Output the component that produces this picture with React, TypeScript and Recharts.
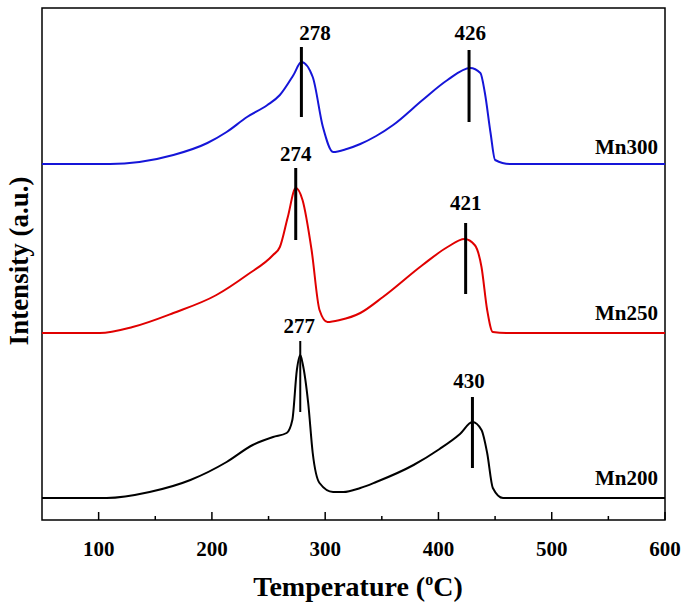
import {
  LineChart,
  Line,
  XAxis,
  YAxis,
  ReferenceArea,
  ReferenceLine,
  ReferenceDot,
} from 'recharts';

// temperature (°C) and intensity (a.u., stacked offsets)
const mn300T = [50, 110, 136, 166, 196, 213, 231, 249, 260, 272, 279, 289, 298, 307, 319, 331, 345, 360, 386, 408, 428, 437, 441, 446, 450, 463, 600];
const mn300I = [356, 356, 358, 365, 377, 388, 403, 415, 425, 445, 458, 443, 393, 368, 371, 376, 384, 395, 420, 440, 452, 447, 427, 387, 360, 356, 356];

const mn250T = [50, 101, 130, 166, 204, 231, 254, 260, 267, 274, 280, 288, 295, 302, 313, 331, 351, 386, 408, 423, 432, 438, 443, 448, 460, 600];
const mn250I = [187, 187, 193, 207, 225, 245, 265, 273, 303, 332, 320, 270, 210, 198, 200, 207, 223, 255, 273, 281, 275, 253, 210, 188, 187, 187];

const mn200T = [50, 107, 145, 181, 213, 236, 254, 266, 271, 275, 278, 280, 285, 289, 295, 307, 316, 331, 345, 378, 401, 419, 430, 438, 443, 448, 457, 600];
const mn200I = [22, 22, 28, 40, 58, 75, 83, 87, 100, 150, 165, 157, 117, 67, 37, 28, 28, 32, 38, 55, 71, 86, 98, 90, 67, 32, 22, 22];

// peak markers: label text, bar position, bar ends, label position
const peakLabels = ['278', '426', '274', '421', '277', '430'];
const peakT = [279, 427, 274, 424, 278, 430];
const barTop = [473, 470, 352, 297, 179, 123];
const barBottom = [403, 398, 280, 226, 108, 52];
const barWidth = [3, 3, 3, 3, 2, 3];
const labelT = [291, 428, 274, 424, 277, 427];
const labelI = [487, 487, 366, 317, 194, 139];

const sampleNames = ['Mn300', 'Mn250', 'Mn200'];
const sampleColors = ['#1515d8', '#e00000', '#000000'];
const sampleBase = [373, 207, 42];

const xTicks = [100, 150, 200, 250, 300, 350, 400, 450, 500, 550, 600];

const toRows = (t: number[], v: number[]) => t.map((x, i) => ({ t: x, v: v[i] }));
const curves = [toRows(mn300T, mn300I), toRows(mn250T, mn250I), toRows(mn200T, mn200I)];

const FONT = '"Liberation Serif", "Times New Roman", serif';

const XTick = ({ x, y, payload }: any) => {
  const major = payload.value % 100 === 0;
  return (
    <g>
      <line x1={x} x2={x} y1={y} y2={y - (major ? 8 : 4)} stroke="#000" strokeWidth={1.5} />
      {major && (
        <text x={x} y={y + 36} textAnchor="middle" fontFamily={FONT} fontWeight="bold" fontSize={21} fill="#000">
          {payload.value}
        </text>
      )}
    </g>
  );
};

const XTitle = () => (
  <text x={358} y={596} textAnchor="middle" fontFamily={FONT} fontWeight="bold" fontSize={28} fill="#000">
    Temperature (<tspan fontSize={16} dy={-11}>o</tspan>
    <tspan dy={11}>C)</tspan>
  </text>
);

const YTitle = () => (
  <text
    x={28}
    y={261}
    transform="rotate(-90 28 261)"
    textAnchor="middle"
    fontFamily={FONT}
    fontWeight="bold"
    fontSize={27}
    fill="#000"
  >
    Intensity (a.u.)
  </text>
);

const textStyle = { fontFamily: FONT, fontWeight: 'bold', fontSize: 21, fill: '#000' };

export default function App() {
  return (
    <div style={{ position: 'absolute', left: 0, top: 0, background: '#fff' }}>
      <LineChart width={685} height={608} margin={{ top: 8, right: 20, bottom: 0, left: 0 }}>
        <XAxis
          dataKey="t"
          type="number"
          domain={[50, 600]}
          ticks={xTicks}
          interval={0}
          allowDataOverflow
          axisLine={false}
          tickLine={false}
          tickSize={0}
          tickMargin={0}
          height={88}
          tick={<XTick />}
          label={{ content: () => <XTitle /> }}
        />
        <YAxis
          type="number"
          domain={[0, 512]}
          width={42}
          tick={false}
          axisLine={false}
          tickLine={false}
          label={{ content: () => <YTitle /> }}
        />
        <ReferenceArea x1={50} x2={600} y1={0} y2={512} fill="none" stroke="#000" strokeWidth={1.5} />
        {curves.map((rows, i) => (
          <Line
            key={sampleNames[i]}
            data={rows}
            dataKey="v"
            type="monotone"
            stroke={sampleColors[i]}
            strokeWidth={2}
            dot={false}
            isAnimationActive={false}
          />
        ))}
        {peakLabels.map((lab, i) => (
          <ReferenceLine
            key={'bar' + i}
            segment={[
              { x: peakT[i], y: barBottom[i] },
              { x: peakT[i], y: barTop[i] },
            ]}
            stroke="#000"
            strokeWidth={barWidth[i]}
          />
        ))}
        {peakLabels.map((lab, i) => (
          <ReferenceDot
            key={'lab' + i}
            x={labelT[i]}
            y={labelI[i]}
            r={0}
            fill="none"
            stroke="none"
            label={{ value: lab, position: 'center', style: textStyle }}
          />
        ))}
        {sampleNames.map((name, i) => (
          <ReferenceDot
            key={name}
            x={600}
            y={sampleBase[i]}
            r={0}
            fill="none"
            stroke="none"
            label={{ value: name, position: 'left', offset: 7, style: textStyle }}
          />
        ))}
      </LineChart>
    </div>
  );
}
